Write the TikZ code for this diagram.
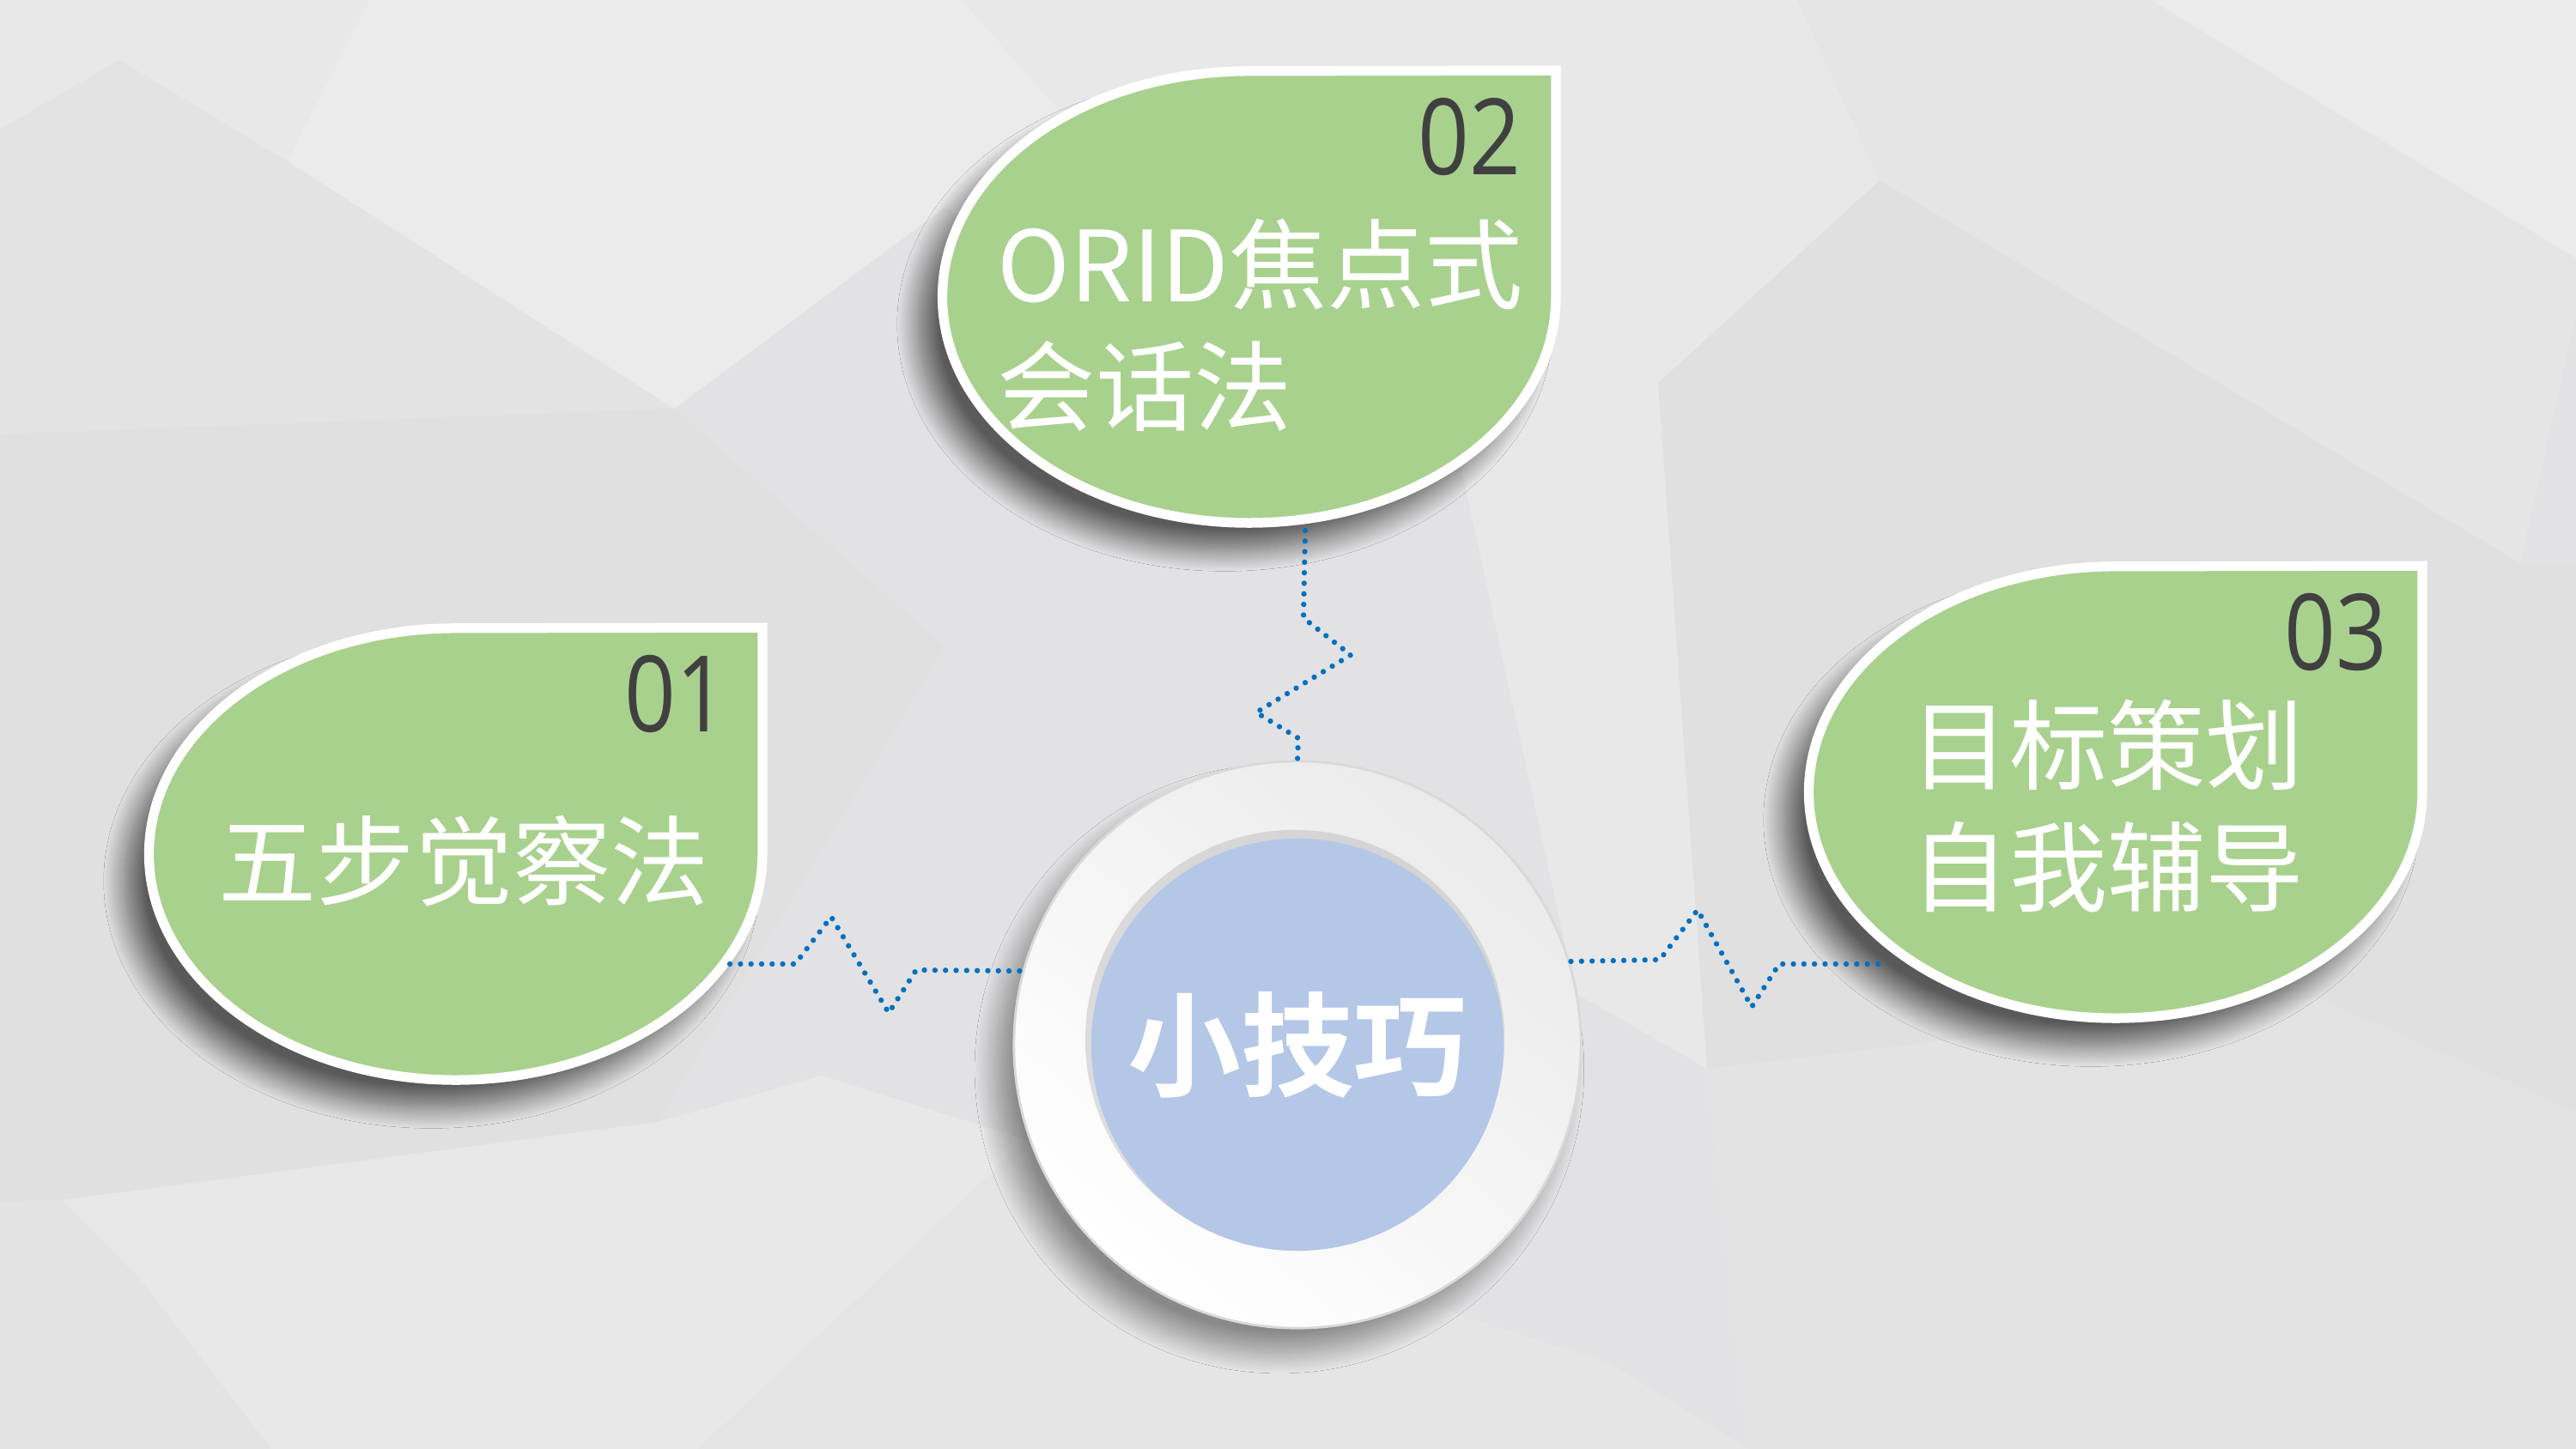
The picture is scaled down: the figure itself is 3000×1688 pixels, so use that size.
\documentclass[tikz,border=0pt]{standalone}
\usepackage{fontspec}
\usetikzlibrary{shapes, arrows.meta, positioning, calc, shadows.blur}
\newfontfamily\cjk{Noto Sans CJK SC}[BoldFont=Noto Sans CJK SC Bold]
\newfontfamily\numfont{Open Sans}[FakeStretch=0.85]

\definecolor{leafgreen}{HTML}{A9D18E}
\definecolor{hubblue}{HTML}{B4C7E7}
\definecolor{linkblue}{HTML}{0070C0}
\definecolor{numgray}{HTML}{404040}
\definecolor{bgbase}{HTML}{E2E2E4}

\begin{document}
\begin{tikzpicture}[
    x=0.01cm, y=0.01cm,
    leafbox/.style={rectangle, minimum width=7.14cm, minimum height=5.26cm, inner sep=0pt},
    leaf/.style={fill=leafgreen, draw=white, line width=3.2pt,
        blur shadow={shadow xshift=-8pt, shadow yshift=-9pt, shadow blur radius=7pt, shadow blur steps=24, shadow opacity=60}},
    num/.style={font=\numfont\fontsize{35pt}{35pt}\selectfont, text=numgray, inner sep=0pt, anchor=base east},
    tip/.style={font=\cjk\fontsize{32.5pt}{40.5pt}\selectfont, text=white, inner sep=0pt, align=left, anchor=west},
    hubring/.style={circle, minimum size=6.6cm, inner sep=0pt, draw=gray!30, line width=0.8pt,
        top color=gray!16, bottom color=white, shading angle=-40,
        blur shadow={shadow xshift=-6pt, shadow yshift=-8pt, shadow blur radius=7pt, shadow blur steps=24, shadow opacity=40}},
    hubcore/.style={circle, minimum size=4.8cm, inner sep=0pt, fill=hubblue, text=white,
        font=\cjk\bfseries\fontsize{37.5pt}{37.5pt}\selectfont},
    link/.style={draw=linkblue, line width=1.8pt, line cap=round, line join=round, dash pattern=on 0pt off 3.5pt}
]
\useasboundingbox (0,0) rectangle (3000,1688);
\fill[bgbase] (0,0) rectangle (3000,1688);

% background facets (image coordinates, y downwards)
\begin{scope}[shift={(0,1688)}, yscale=-1]
\fill[black!9] (0,0) -- (430,0) -- (335,188) -- (139,70) -- (0,151) -- cycle;
\fill[black!11] (139,70) -- (335,188) -- (785,476) -- (0,506) -- (0,151) -- cycle;
\fill[black!8] (430,0) -- (1120,0) -- (1234,129) -- (1100,242) -- (785,476) -- (335,188) -- cycle;
\fill[black!12] (0,506) -- (785,476) -- (1100,753) -- (766,1307) -- (72,1398) -- (0,1400) -- cycle;
\fill[black!9] (72,1398) -- (766,1307) -- (957,1253) -- (1196,1328) -- (813,1688) -- (316,1688) -- (163,1490) -- cycle;
\fill[black!11] (0,1400) -- (72,1398) -- (163,1490) -- (316,1688) -- (0,1688) -- cycle;
\fill[black!9] (1120,0) -- (2093,0) -- (2189,210) -- (1816,180) -- (1234,129) -- cycle;
\fill[black!10] (2093,0) -- (2505,0) -- (3000,301) -- (3000,366) -- (2935,656) -- (2189,210) -- cycle;
\fill[black!8] (2505,0) -- (3000,0) -- (3000,301) -- cycle;
\fill[black!12] (2189,210) -- (2935,656) -- (3000,660) -- (3000,1296) -- (2696,1162) -- (1988,1245) -- (1931,446) -- cycle;
\fill[black!9] (1100,242) -- (1234,129) -- (1816,180) -- (2189,210) -- (1931,446) -- (1701,543) -- cycle;
\fill[black!11] (1988,1245) -- (2696,1162) -- (3000,1296) -- (3000,1688) -- (2036,1688) -- cycle;
\fill[black!10] (1196,1328) -- (1691,1528) -- (1873,1587) -- (2036,1688) -- (813,1688) -- cycle;
\fill[black!9] (1701,543) -- (1931,446) -- (1988,1245) -- (1835,1157) -- cycle;
\end{scope}

% leaves
\node[leafbox] (leafA) at (530,693) {};
\node[leafbox] (leafB) at (1454,1342) {};
\node[leafbox] (leafC) at (2463,765) {};
\foreach \n in {leafA, leafB, leafC}
    \path[leaf] (\n.north east) -- (\n.east) arc[start angle=0, end angle=-270, x radius=3.57cm, y radius=2.63cm] -- cycle;

% centre plate
\node[hubring] (hub) at (1511,471) {};
\fill[gray!70, opacity=.35] ($(hub.center)+(-3,6)$) circle (2.44cm);
\node[hubcore] (core) at (hub.center) {小技巧};

% dotted links
\coordinate (endA) at (850,565);
\coordinate (endB) at (1520,1070);
\coordinate (endC) at (2187,565);
\draw[link] (endA) -- ++(76,0) -- ++(42,55) -- ++(67,-112) -- ++(32,50) -- (hub.165);
\draw[link] (endB) -- ++(-2,-102) -- ++(55,-43) -- ++(-110,-67) -- ++(49,-30) -- (hub.north);
\draw[link] (endC) -- ++(-115,0) -- ++(-32,-50) -- ++(-63,113) -- ++(-44,-58) -- (hub.17);

% labels
\node[num] (numA) at ($(leafA.north east)+(-40,-121)$) {01};
\node[num] (numB) at ($(leafB.north east)+(-40,-121)$) {02};
\node[num] (numC) at ($(leafC.north east)+(-40,-121)$) {03};
\node[tip] (tipA) at (254,685) {五步觉察法};
\node[tip] (tipB) at (1161,1309) {ORID焦点式\\会话法};
\node[tip] (tipC) at (2225,749) {目标策划\\自我辅导};
\end{tikzpicture}
\end{document}
